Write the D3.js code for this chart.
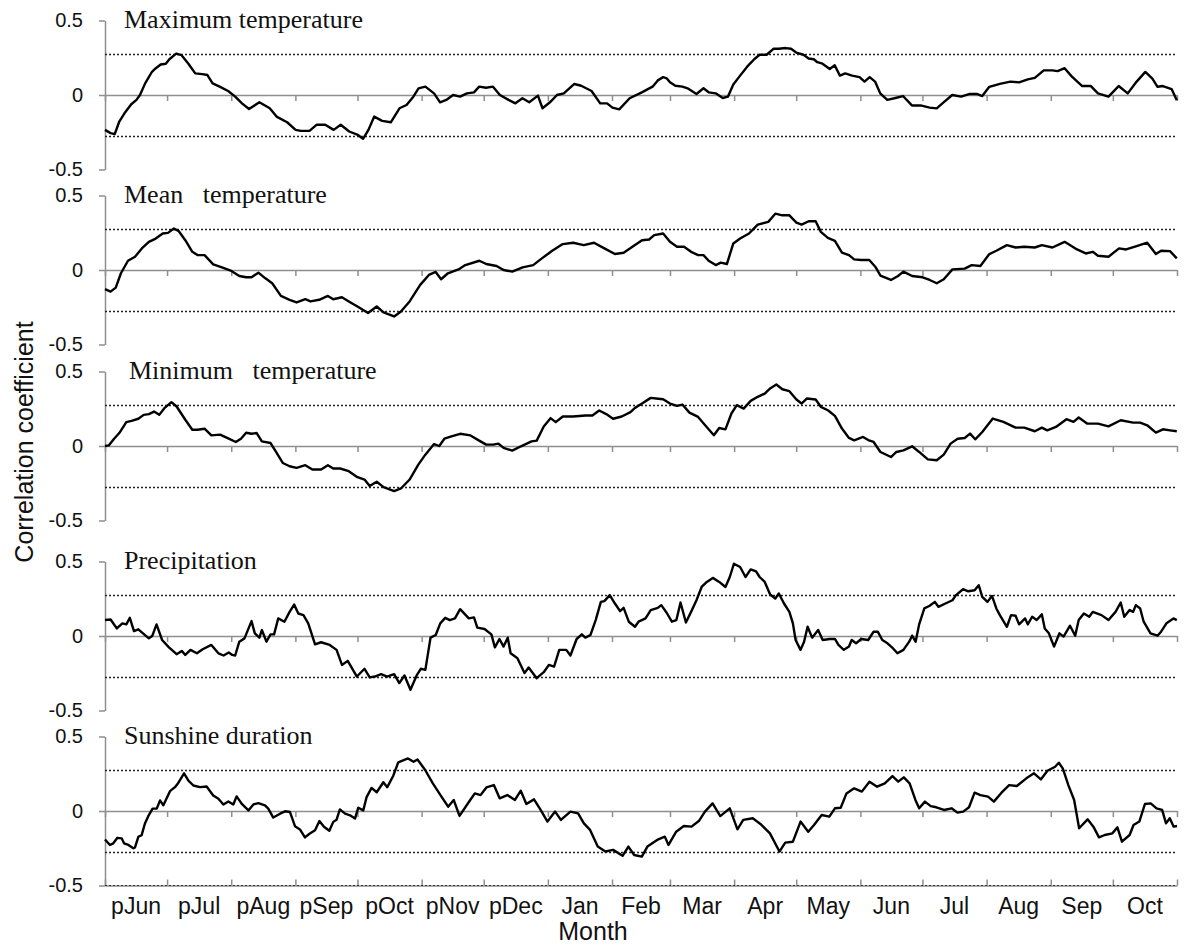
<!DOCTYPE html>
<html>
<head>
<meta charset="utf-8">
<script src="https://cdn.jsdelivr.net/npm/d3@7"></script>
<style>
  body { margin: 0; background: #fff; }
  svg { display: block; }
</style>
</head>
<body>
<svg id="chart" width="1190" height="945"></svg>
<script>
// months of the response window (p = previous year) and their lengths in days
const months = ["pJun","pJul","pAug","pSep","pOct","pNov","pDec","Jan","Feb","Mar","Apr","May","Jun","Jul","Aug","Sep","Oct"];
const monthDays = [30,31,31,30,31,30,31,31,28,31,30,31,30,31,31,30,31];
const yTicks = [-0.5, 0, 0.5];
const sigLevel = 0.276;

const panelTitles = ["Maximum temperature", "Mean\u00a0\u00a0 temperature", "Minimum\u00a0\u00a0 temperature", "Precipitation", "Sunshine duration"];

// [day since 1 pJun, correlation]
const maxTemp = [[0,-0.234],[2.7,-0.256],[4.7,-0.263],[6.9,-0.178],[9.4,-0.123],[12.7,-0.062],[15.2,-0.033],[16.9,0],[19.4,0.078],[22.7,0.156],[24.4,0.178],[26.9,0.205],[29.4,0.21],[31.1,0.24],[34.4,0.278],[37,0.267],[40.3,0.21],[43.6,0.145],[47,0.14],[49.5,0.134],[52,0.078],[55.4,0.056],[59.5,0.027],[62.9,-0.011],[66.2,-0.056],[69.6,-0.094],[74.6,-0.049],[79.6,-0.089],[82.9,-0.145],[88,-0.183],[92.1,-0.234],[94.6,-0.241],[98.8,-0.241],[102.2,-0.2],[106.4,-0.2],[110.5,-0.234],[113.9,-0.2],[118,-0.245],[122.2,-0.268],[124.7,-0.294],[127.3,-0.234],[130.1,-0.145],[133.9,-0.174],[138.1,-0.183],[142.3,-0.089],[145.7,-0.067],[149,-0.011],[151.5,0.045],[154.8,0.056],[159,0.011],[161.9,-0.049],[164.9,-0.033],[168.2,0],[171.6,-0.011],[174.9,0.011],[178.3,0.018],[180.8,0.056],[184.1,0.049],[187.5,0.056],[190.8,0],[195,-0.033],[198.3,-0.056],[201.7,-0.022],[205,-0.049],[209.2,-0.004],[211.4,-0.089],[215,-0.049],[218.4,0],[221.7,0.011],[226.8,0.074],[230.1,0.062],[235.1,0.027],[239.3,-0.056],[242.6,-0.056],[245.2,-0.085],[248.5,-0.096],[253.5,-0.022],[259.4,0.018],[264.6,0.056],[267.1,0.098],[269.7,0.12],[271.4,0.112],[273,0.085],[275.6,0.062],[279,0.056],[281.5,0.045],[285.8,0.007],[289.2,0.045],[291.7,0.018],[295.1,0.011],[298.5,-0.02],[301,-0.011],[303.6,0.07],[306.9,0.13],[310.3,0.19],[313.7,0.24],[316.3,0.27],[319.7,0.27],[323,0.31],[325.5,0.31],[329,0.315],[331.5,0.31],[334,0.285],[337.5,0.27],[340,0.245],[342.5,0.24],[344.2,0.22],[346.7,0.21],[350.2,0.175],[352.6,0.2],[355.1,0.13],[357.7,0.145],[361,0.13],[364.6,0.12],[367,0.09],[369.5,0.12],[372.1,0.09],[374.6,0.011],[378,-0.033],[381.4,-0.022],[385.6,-0.007],[389.9,-0.07],[394.1,-0.07],[398.5,-0.085],[401.9,-0.09],[405.2,-0.05],[409.4,0],[413.7,-0.011],[417.9,0.007],[421.3,0.007],[423.9,-0.007],[427.3,0.055],[432.4,0.075],[437.5,0.09],[441.7,0.085],[445.9,0.105],[449.3,0.115],[453.6,0.165],[457.8,0.165],[460.3,0.16],[463.7,0.18],[467.1,0.125],[472.2,0.06],[476.4,0.06],[479.8,0.011],[484.9,-0.011],[489.8,0.06],[494.2,0.011],[498.5,0.09],[502.7,0.155],[506.1,0.11],[508.6,0.055],[511.2,0.06],[515.4,0.04],[517.9,-0.035]];

const meanTemp = [[0,-0.129],[2.7,-0.145],[5.2,-0.118],[7.7,-0.022],[11.1,0.062],[14.5,0.089],[17.8,0.145],[21.2,0.189],[24.5,0.211],[27.9,0.245],[30.4,0.249],[33.3,0.278],[35.5,0.263],[38.8,0.2],[42.2,0.122],[44.7,0.1],[48.1,0.1],[52.3,0.038],[56.5,0.018],[60.7,-0.004],[64.9,-0.04],[68.2,-0.049],[70.8,-0.049],[74.1,-0.018],[77.5,-0.056],[80.8,-0.089],[85,-0.174],[89.2,-0.2],[92.6,-0.218],[96.8,-0.196],[99.3,-0.211],[103.5,-0.2],[107.7,-0.174],[110.3,-0.196],[114.5,-0.183],[117.8,-0.211],[122,-0.245],[127.1,-0.289],[131.3,-0.245],[134.6,-0.285],[139.7,-0.312],[143,-0.278],[147.2,-0.211],[152.3,-0.1],[156.5,-0.033],[159.8,-0.013],[162.4,-0.062],[165.7,-0.022],[170.8,0.004],[174.1,0.033],[180.9,0.062],[184.2,0.04],[189.2,0.027],[192.6,0],[196.8,-0.011],[201.8,0.018],[206.9,0.033],[211.1,0.078],[216.1,0.129],[221.2,0.174],[226.2,0.183],[231.3,0.167],[236.3,0.183],[241.3,0.145],[246.4,0.107],[250.6,0.116],[256.1,0.167],[259.5,0.2],[262.9,0.205],[265.4,0.234],[269.7,0.245],[273,0.189],[276.4,0.156],[279.8,0.156],[283.2,0.122],[286.6,0.1],[289.2,0.1],[291.7,0.062],[295.1,0.033],[297.6,0.049],[300.5,0.04],[303.6,0.178],[306.9,0.211],[311.2,0.245],[315.4,0.305],[320.5,0.323],[323.9,0.378],[327.3,0.367],[330.7,0.367],[334.1,0.318],[336.6,0.305],[340,0.327],[343.4,0.327],[345.9,0.256],[349.3,0.216],[352.7,0.196],[356.1,0.116],[359.5,0.1],[362,0.071],[365.4,0.067],[369.3,0.067],[372.2,0.022],[374.7,-0.038],[379.8,-0.067],[383.2,-0.04],[385.8,-0.011],[390,-0.04],[395.1,-0.049],[398.5,-0.067],[401.9,-0.089],[405.3,-0.062],[409.5,0.004],[415.4,0.009],[418.8,0.033],[423,0.027],[427.3,0.107],[430.7,0.129],[435.8,0.167],[440,0.151],[444.2,0.156],[449.3,0.151],[452.7,0.167],[457.8,0.151],[463.7,0.189],[469.7,0.138],[473.9,0.111],[477.3,0.122],[479.8,0.096],[484.9,0.089],[490,0.145],[493.4,0.138],[498.5,0.16],[503.6,0.183],[507.8,0.107],[510.3,0.129],[514.6,0.127],[517.9,0.078]];

const minTemp = [[0,0],[1.8,0.004],[4.4,0.049],[6.9,0.087],[10.3,0.16],[12.8,0.169],[16.1,0.183],[18.7,0.209],[21.2,0.214],[23.7,0.231],[26.2,0.209],[28.7,0.254],[32.1,0.294],[34.6,0.265],[38.8,0.176],[42.2,0.109],[44.7,0.109],[48.1,0.116],[51.4,0.071],[55.6,0.076],[59.8,0.049],[63.2,0.027],[65.7,0.049],[68.2,0.089],[70.8,0.082],[73.3,0.087],[75.8,0.031],[80,0.02],[82.5,-0.036],[85.9,-0.114],[89.2,-0.136],[92.6,-0.147],[96.8,-0.129],[100.2,-0.158],[104.4,-0.158],[107.7,-0.129],[110.3,-0.151],[113.6,-0.151],[117.8,-0.169],[122,-0.209],[125.4,-0.225],[127.9,-0.269],[131.3,-0.24],[134.6,-0.276],[139.7,-0.303],[143,-0.285],[147.2,-0.225],[151.4,-0.125],[154.8,-0.058],[159,0.013],[161.5,0],[164,0.049],[167.4,0.065],[171.6,0.082],[176.6,0.071],[180.8,0.036],[184.2,0.009],[187.6,0.009],[190.1,0.016],[192.6,-0.013],[196.8,-0.031],[201,-0.002],[206.1,0.031],[208.6,0.036],[212,0.131],[215.3,0.187],[217.8,0.16],[221.2,0.198],[226.2,0.198],[232.1,0.205],[235.5,0.205],[238.8,0.238],[242.2,0.214],[245.5,0.183],[249.7,0.198],[253.9,0.227],[256.1,0.256],[259.5,0.285],[263.7,0.323],[266.3,0.319],[269.7,0.314],[273,0.285],[276.4,0.269],[279,0.278],[282.4,0.224],[286.6,0.195],[290,0.139],[294.2,0.072],[296.8,0.121],[299.8,0.112],[302.7,0.218],[305.3,0.274],[308.6,0.251],[312,0.303],[315.4,0.33],[318.8,0.352],[321.4,0.386],[324.4,0.413],[327.3,0.381],[330.7,0.368],[334.1,0.312],[336.6,0.285],[339.2,0.319],[343.4,0.312],[345.9,0.263],[349.3,0.24],[352.7,0.202],[356.1,0.117],[359.5,0.054],[362,0.038],[366.3,0.061],[368.8,0.04],[371.4,0.027],[374.7,-0.04],[379.8,-0.074],[382.4,-0.04],[385.8,-0.029],[390,-0.002],[393.4,-0.04],[397.6,-0.09],[401.9,-0.096],[405.3,-0.058],[408.6,0.016],[412,0.049],[415.4,0.054],[418,0.083],[420.5,0.045],[423.9,0.094],[429,0.184],[434.1,0.162],[440,0.123],[444.2,0.123],[449.3,0.099],[452.7,0.123],[455.3,0.105],[459.5,0.128],[464.6,0.18],[468,0.162],[470.5,0.191],[474.7,0.15],[479.8,0.15],[484.9,0.132],[490.8,0.173],[496.8,0.157],[500.2,0.157],[503.6,0.139],[507.8,0.09],[511.2,0.112],[514.6,0.105],[517.9,0.099]];

const precip = [[0,0.107],[2.7,0.111],[5.7,0.051],[8.4,0.085],[10.3,0.078],[12,0.122],[14,0.033],[16.1,0.045],[21.2,-0.016],[22.9,0.002],[24.9,0.078],[27.6,-0.027],[30.9,-0.076],[34.6,-0.122],[37.1,-0.1],[38.8,-0.127],[41.3,-0.093],[44.4,-0.116],[47.2,-0.089],[51.4,-0.06],[54.8,-0.116],[57.3,-0.131],[59.8,-0.111],[61.5,-0.127],[62.9,-0.131],[64.9,-0.038],[67.4,-0.016],[70.8,0.1],[72.4,0.018],[74.6,-0.011],[75.8,0.04],[78,-0.038],[80,0.011],[81.7,0.011],[83.7,0.118],[86.7,0.096],[89.2,0.162],[91.4,0.211],[93.4,0.151],[95.9,0.14],[98.2,0.085],[101.5,-0.056],[104.4,-0.042],[108.6,-0.06],[111.9,-0.093],[114.5,-0.194],[117.3,-0.167],[121.7,-0.272],[125.4,-0.22],[127.9,-0.278],[130.4,-0.272],[133.4,-0.256],[136.3,-0.272],[139.7,-0.256],[142.2,-0.316],[144.7,-0.265],[147.6,-0.361],[150.6,-0.265],[152.6,-0.22],[154.8,-0.227],[157.3,-0.011],[159.8,0.007],[162,0.085],[164.4,0.122],[166.6,0.107],[169.1,0.118],[171.6,0.18],[175.8,0.118],[178.3,0.125],[179.9,0.056],[183.4,0.047],[186.7,0.011],[188.4,-0.076],[190.6,-0.02],[192.6,-0.071],[194.6,-0.011],[196,-0.116],[199.3,-0.149],[202.7,-0.249],[204.7,-0.211],[208.6,-0.283],[212,-0.243],[214.5,-0.194],[217,-0.205],[219.5,-0.093],[222.9,-0.093],[224.9,-0.131],[227.9,-0.02],[230.4,0.011],[232.1,-0.011],[234.6,0.007],[237.1,0.107],[239.6,0.229],[241.3,0.234],[243.9,0.274],[246.4,0.218],[248.9,0.167],[250.6,0.189],[253.1,0.096],[256.1,0.062],[257.8,0.096],[261.2,0.118],[263.7,0.174],[267.1,0.189],[268.8,0.207],[271.4,0.156],[273.9,0.096],[276.1,0.107],[278.1,0.225],[280.7,0.091],[283.2,0.162],[285.8,0.24],[288.3,0.329],[290.8,0.363],[293.7,0.39],[296.8,0.363],[299.8,0.329],[301.9,0.396],[303.9,0.485],[306.9,0.463],[309.5,0.396],[312,0.447],[314.6,0.434],[316.3,0.396],[318.8,0.363],[321.4,0.278],[323.9,0.252],[325.6,0.285],[328.1,0.218],[330.7,0.162],[332.4,0.085],[333.7,-0.027],[336.1,-0.093],[337.8,-0.038],[339.5,0.062],[341.7,-0.011],[344.6,0.04],[346.8,-0.027],[350.2,-0.02],[352.7,-0.02],[354.4,-0.06],[357,-0.093],[359.5,-0.071],[360.8,-0.027],[362.9,-0.049],[365.4,-0.02],[368.8,-0.027],[371.4,0.029],[373.4,0.029],[375.6,-0.027],[378.1,-0.049],[380.7,-0.082],[382.9,-0.116],[385.8,-0.093],[388.6,-0.038],[390,0.002],[391.7,-0.038],[393.4,0.078],[395.9,0.185],[398.5,0.203],[401,0.229],[402.7,0.196],[406.1,0.218],[409.5,0.24],[411.2,0.274],[414.6,0.314],[417.1,0.3],[420.2,0.307],[422.2,0.341],[423.9,0.263],[426.4,0.229],[428.6,0.269],[430.7,0.185],[432.4,0.14],[435.8,0.062],[437.8,0.14],[440,0.136],[441.7,0.078],[444.6,0.118],[445.9,0.078],[448,0.129],[450.2,0.107],[452.7,0.145],[454.1,0.051],[456.1,0.018],[458.6,-0.071],[461.2,0.018],[463.2,-0.004],[466.3,0.069],[468.8,0.002],[470.5,0.107],[473,0.151],[475.6,0.129],[477.3,0.162],[481.5,0.14],[484.9,0.107],[488.3,0.162],[490.8,0.225],[492.5,0.129],[495.1,0.174],[496.8,0.162],[498.1,0.207],[500.2,0.185],[501.9,0.096],[505.2,0.018],[508.6,0.002],[510.3,0.029],[512.9,0.085],[516.3,0.118],[517.9,0.107]];

const sunshine = [[0,-0.191],[2.4,-0.228],[4,-0.217],[6,-0.18],[8.1,-0.184],[9.2,-0.217],[11.3,-0.228],[13.7,-0.25],[14.5,-0.244],[16.1,-0.173],[17.7,-0.162],[19.3,-0.084],[20.9,-0.035],[23,0.016],[25,0.016],[26.6,0.071],[28.2,0.038],[31.4,0.133],[33.8,0.16],[35.4,0.188],[38.2,0.253],[40.3,0.204],[42.7,0.171],[45.9,0.16],[49.1,0.164],[52.3,0.104],[54.8,0.082],[57.2,0.044],[59.6,0.064],[62,0.044],[63.6,0.098],[66,0.049],[69.3,0.004],[71.7,0.044],[74.1,0.053],[77.3,0.038],[78.9,0.016],[81.3,-0.044],[84.6,-0.018],[87,-0.002],[89.4,-0.007],[91.8,-0.102],[94.2,-0.124],[96.6,-0.177],[99,-0.151],[101.5,-0.129],[103.6,-0.067],[105.8,-0.106],[108.4,-0.133],[110.3,-0.073],[111.9,-0.058],[113.5,0.011],[116,-0.018],[118.4,-0.029],[120.8,-0.051],[122.4,0.022],[124.8,0.004],[126.4,0.093],[128.8,0.155],[131.3,0.126],[134.5,0.193],[136.4,0.16],[139.3,0.237],[141.7,0.326],[146.4,0.353],[149.1,0.33],[151,0.346],[154.7,0.275],[158.4,0.185],[162.1,0.107],[165.8,0.029],[168.5,0.074],[171.3,-0.033],[175.9,0.062],[178.7,0.118],[181.5,0.107],[184.3,0.158],[187.9,0.174],[190.7,0.085],[194.4,0.107],[198.1,0.074],[200.9,0.136],[203.6,0.047],[207.3,0.078],[210.5,0.007],[213.8,-0.071],[217.5,-0.004],[220.3,-0.06],[224.9,-0.004],[228.6,-0.016],[231.4,-0.083],[234.4,-0.127],[238.1,-0.239],[241.8,-0.272],[245.5,-0.261],[250.1,-0.301],[252.9,-0.239],[255.7,-0.295],[259.4,-0.306],[262.1,-0.239],[266.8,-0.194],[270.5,-0.172],[272.3,-0.228],[276,-0.139],[279.7,-0.101],[283.4,-0.105],[287.1,-0.065],[289.9,-0.004],[293.6,0.051],[297.3,-0.034],[301.9,0.018],[305.6,-0.123],[308.4,-0.06],[313,-0.049],[316.7,-0.087],[321.3,-0.15],[325.9,-0.272],[328.7,-0.212],[332.4,-0.206],[336.1,-0.071],[339.8,-0.139],[342.6,-0.094],[346.3,-0.027],[350,-0.038],[352.7,0.018],[355.5,0.022],[358.3,0.118],[362,0.152],[365.7,0.13],[369.4,0.197],[373.1,0.163],[376.8,0.185],[380.5,0.234],[383.3,0.197],[386,0.226],[388.8,0.185],[391.6,0.074],[393.4,0.018],[396.2,0.063],[399,0.033],[401.7,0.025],[405.4,0.007],[409.1,0.018],[411.9,-0.011],[414.7,-0.004],[417.5,0.025],[420.2,0.123],[423,0.107],[426.7,0.096],[429.5,0.063],[433.2,0.123],[436.9,0.174],[440.6,0.168],[445.2,0.219],[448.9,0.253],[452.2,0.212],[455.4,0.27],[459.1,0.297],[460.9,0.324],[462.8,0.286],[465.5,0.174],[468.3,0.074],[470.7,-0.116],[474.8,-0.056],[477.6,-0.105],[480.3,-0.177],[483.1,-0.161],[486.8,-0.15],[489.2,-0.11],[491.4,-0.206],[495.1,-0.161],[497,-0.094],[499.8,-0.071],[502.5,0.047],[505.3,0.051],[508.1,0.018],[510.8,0.007],[512.7,-0.083],[514.5,-0.049],[516.4,-0.105],[518,-0.101]];

const series = [maxTemp, meanTemp, minTemp, precip, sunshine];

// layout
const left = 105, right = 1177;
const zeroY = [95, 270, 446, 636, 811];
const titleX = [124, 124, 129, 124, 124];
const half = 74.5;
const axisGrey = "#8f8f8f";
const sans = "'Liberation Sans', Arial, sans-serif";
const serif = "'Liberation Serif', 'Times New Roman', serif";

const svg = d3.select("#chart");

const bounds = [0];
monthDays.forEach(d => bounds.push(bounds[bounds.length - 1] + d));
const totalDays = bounds[bounds.length - 1];

const x = d3.scaleLinear().domain([0, totalDays]).range([left, right]);

series.forEach((data, i) => {
  const y = d3.scaleLinear().domain([-0.5, 0.5]).range([zeroY[i] + half, zeroY[i] - half]);
  const g = svg.append("g");

  // left axis
  const yAxis = g.append("g")
    .attr("transform", "translate(" + left + ",0)")
    .call(d3.axisLeft(y).tickValues(yTicks).tickSize(6).tickSizeOuter(0).tickPadding(16)
      .tickFormat(d => d === 0 ? "0" : String(d)));
  yAxis.select(".domain").attr("stroke", axisGrey).attr("stroke-width", 1.5);
  yAxis.selectAll(".tick line").attr("stroke", axisGrey).attr("stroke-width", 1.5);
  yAxis.selectAll("text").attr("font-family", sans).attr("font-size", 20).attr("fill", "#111");

  // zero line with month ticks
  const xAxis = g.append("g")
    .attr("transform", "translate(0," + y(0) + ")")
    .call(d3.axisBottom(x).tickValues(bounds).tickSize(6).tickSizeOuter(0).tickFormat(""));
  xAxis.select(".domain").attr("stroke", axisGrey).attr("stroke-width", 1.5);
  xAxis.selectAll(".tick line").attr("stroke", axisGrey).attr("stroke-width", 1.5);

  // significance lines
  [sigLevel, -sigLevel].forEach(s => {
    g.append("line")
      .attr("x1", x(0)).attr("x2", x(totalDays))
      .attr("y1", Math.round(y(s)) + 0.5).attr("y2", Math.round(y(s)) + 0.5)
      .attr("stroke", "#222").attr("stroke-width", 1.6)
      .attr("stroke-dasharray", "2,2");
  });

  // bottom axis only for last panel
  if (i === series.length - 1) {
    const bAxis = g.append("g")
      .attr("transform", "translate(0," + y(-0.5) + ")")
      .call(d3.axisBottom(x).tickValues(bounds).tickSize(-6).tickSizeOuter(0).tickFormat(""));
    bAxis.select(".domain").attr("stroke", axisGrey).attr("stroke-width", 1.5);
    bAxis.selectAll(".tick line").attr("stroke", axisGrey).attr("stroke-width", 1.5);
    g.append("line")
      .attr("x1", x(0)).attr("x2", x(totalDays))
      .attr("y1", y(-0.5)).attr("y2", y(-0.5))
      .attr("stroke", "#333").attr("stroke-width", 1.2)
      .attr("stroke-dasharray", "2,2");

    g.selectAll(".month")
      .data(months)
      .enter()
      .append("text")
      .attr("x", (d, k) => x((bounds[k] + bounds[k + 1]) / 2))
      .attr("y", y(-0.5) + 28)
      .attr("text-anchor", "middle")
      .attr("font-family", sans)
      .attr("font-size", 23)
      .attr("fill", "#111")
      .text(d => d);
  }

  // correlation line
  g.append("path")
    .datum(data)
    .attr("fill", "none")
    .attr("stroke", "#000")
    .attr("stroke-width", 2.4)
    .attr("stroke-linejoin", "round")
    .attr("d", d3.line().x(d => x(d[0])).y(d => y(d[1])));

  // panel title
  g.append("text")
    .attr("x", titleX[i])
    .attr("y", y(0.5) + 7)
    .attr("font-family", serif)
    .attr("font-size", 26)
    .attr("fill", "#111")
    .text(panelTitles[i]);
});

// axis titles
svg.append("text")
  .attr("transform", "translate(33,442) rotate(-90)")
  .attr("text-anchor", "middle")
  .attr("font-family", sans)
  .attr("font-size", 25)
  .attr("fill", "#111")
  .text("Correlation coefficient");

svg.append("text")
  .attr("x", 593)
  .attr("y", 940)
  .attr("text-anchor", "middle")
  .attr("font-family", sans)
  .attr("font-size", 25)
  .attr("fill", "#111")
  .text("Month");
</script>
</body>
</html>
